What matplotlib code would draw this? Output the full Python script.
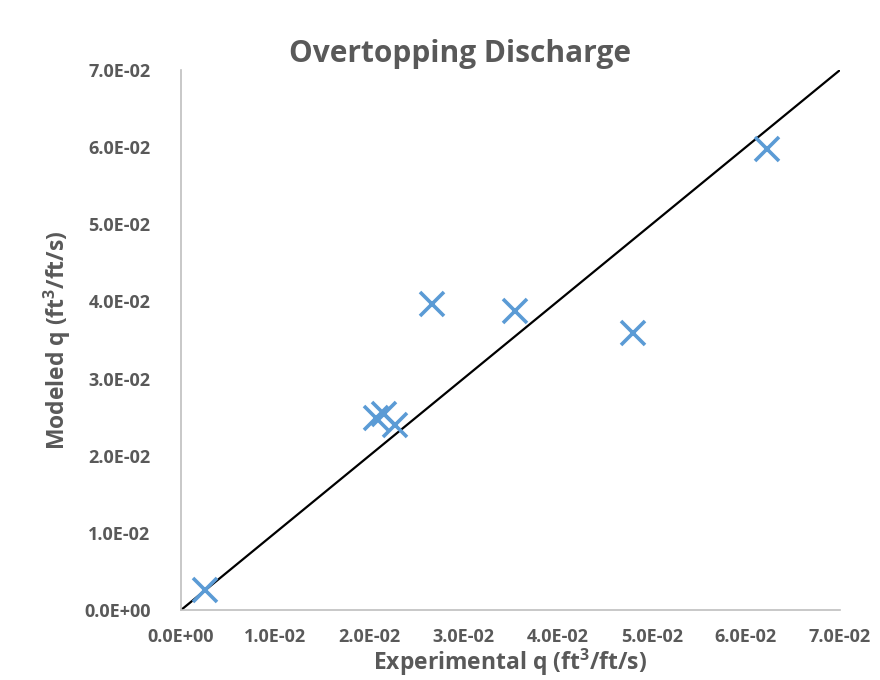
import numpy as np
import matplotlib
matplotlib.use('Agg')
import matplotlib.pyplot as plt
from matplotlib.ticker import FormatStrFormatter, MultipleLocator


# ----------------------------------------------------------------------
# Data
# ----------------------------------------------------------------------

experimental_q = [0.00256, 0.02073, 0.02160, 0.02270, 0.02661, 0.03548, 0.04798, 0.06230]
modeled_q = [0.00259, 0.02489, 0.02540, 0.02400, 0.03967, 0.03876, 0.03591, 0.05976]

line_x = [0.0, 0.07]
line_y = [0.0, 0.07]

title = 'Overtopping Discharge'
xlabel = 'Experimental q (ft$^3$/ft/s)'
ylabel = 'Modeled q (ft$^3$/ft/s)'

grey = '#595959'
blue = '#5B9BD5'

plt.rcParams['font.family'] = ['Open Sans', 'DejaVu Sans']
plt.rcParams['mathtext.default'] = 'regular'

fig = plt.figure(figsize=(8.8, 6.8), dpi=100)
ax = fig.add_axes([0.2057, 0.1029, 0.7488, 0.7941])

ax.plot(line_x, line_y, c='black', lw=1.6, zorder=2)
ax.plot(experimental_q, modeled_q, ls='none', marker='x', ms=17,
        mew=2.6, c=blue, zorder=3)

ax.set_xlim(0, 0.07)
ax.set_ylim(0, 0.07)
ax.xaxis.set_major_locator(MultipleLocator(0.01))
ax.yaxis.set_major_locator(MultipleLocator(0.01))
ax.xaxis.set_major_formatter(FormatStrFormatter('%.1E'))
ax.yaxis.set_major_formatter(FormatStrFormatter('%.1E'))

for side in ['top', 'right']:
    ax.spines[side].set_visible(False)
for side in ['left', 'bottom']:
    ax.spines[side].set_color('#BFBFBF')
    ax.spines[side].set_linewidth(1.2)

ax.tick_params(length=0, labelsize=13, labelcolor=grey)
ax.tick_params(axis='y', pad=22)
ax.tick_params(axis='x', pad=13)
for lab in ax.get_xticklabels() + ax.get_yticklabels():
    lab.set_fontweight('bold')

fig.text(0.523, 0.92, title, fontsize=21.5, fontweight='bold', color=grey,
         ha='center', va='center')
ax.set_xlabel(xlabel, fontsize=16.5, fontweight='bold', color=grey)
ax.set_ylabel(ylabel, fontsize=16.5, fontweight='bold', color=grey)
ax.xaxis.set_label_coords(0.5, -0.097)
ax.yaxis.set_label_coords(-0.188, 0.5)
ax.xaxis.label.set_va('center')
ax.yaxis.label.set_va('center')

plt.savefig('out.png', dpi=100)
plt.close()
